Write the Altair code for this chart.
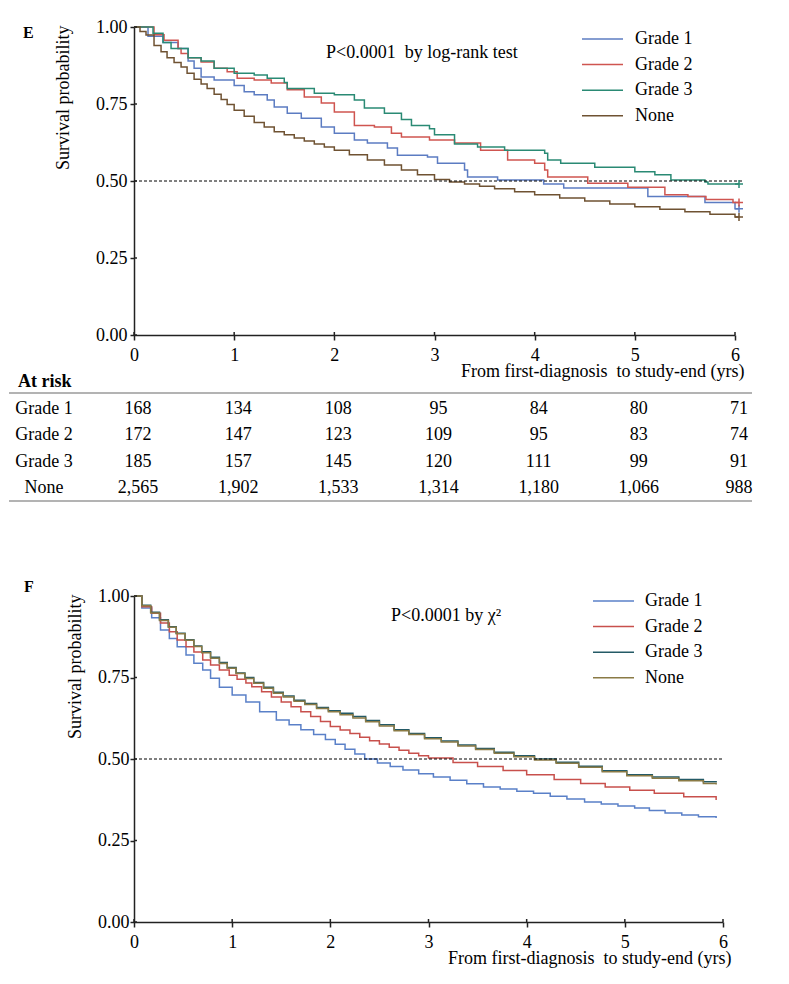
import altair as alt
import pandas as pd

FONT = "Liberation Serif"
AXC = "#222222"
SERIES = ["Grade 1", "Grade 2", "Grade 3", "None"]
E_COLORS = ["#5c7cc2", "#cf5550", "#2a8a74", "#6f5232"]
F_COLORS = ["#5a80c8", "#c8504c", "#245a66", "#8a7a45"]
X_TICKS = [0, 1, 2, 3, 4, 5, 6]
Y_TICKS = [0, 0.25, 0.5, 0.75, 1.0]
X_TITLE = "From first-diagnosis\u00a0 to study-end (yrs)"

# ---- Panel E (Kaplan-Meier, log-rank) ----
e_g1_t = [0, 0.14, 0.29, 0.44, 0.54, 0.60, 0.67, 0.80, 1.00, 1.10, 1.20, 1.33, 1.40, 1.53, 1.67, 1.87,
          2.00, 2.20, 2.33, 2.53, 2.63, 2.93, 3.03, 3.30, 3.33, 3.63, 4.09, 4.29, 5.13, 5.70, 6.00, 6.04]
e_g1_s = [1, 0.97, 0.95, 0.93, 0.89, 0.866, 0.838, 0.828, 0.81, 0.79, 0.78, 0.763, 0.74, 0.72, 0.704, 0.675,
          0.655, 0.633, 0.623, 0.607, 0.584, 0.578, 0.558, 0.536, 0.513, 0.503, 0.49, 0.477, 0.45, 0.43, 0.41, 0.41]

e_g2_t = [0, 0.20, 0.30, 0.44, 0.47, 0.54, 0.67, 0.80, 0.93, 1.03, 1.20, 1.37, 1.53, 1.70, 1.87, 2.00,
          2.20, 2.40, 2.57, 2.67, 2.95, 3.20, 3.46, 3.73, 4.00, 4.10, 4.13, 4.53, 4.93, 5.30, 5.53, 5.71, 5.98, 6.04]
e_g2_s = [1, 0.975, 0.957, 0.93, 0.914, 0.90, 0.886, 0.866, 0.855, 0.834, 0.828, 0.818, 0.796, 0.773, 0.753, 0.724,
          0.68, 0.675, 0.655, 0.643, 0.633, 0.623, 0.60, 0.568, 0.558, 0.536, 0.513, 0.493, 0.48, 0.455, 0.45, 0.44, 0.43, 0.43]

e_g3_t = [0, 0.19, 0.29, 0.37, 0.54, 0.67, 0.80, 1.00, 1.20, 1.33, 1.50, 1.53, 1.80, 2.00, 2.20, 2.30,
          2.50, 2.67, 2.77, 2.95, 3.00, 3.20, 3.43, 3.70, 4.10, 4.13, 4.26, 4.60, 5.00, 5.20, 5.36, 5.70, 5.73, 6.04]
e_g3_s = [1, 0.98, 0.95, 0.93, 0.90, 0.89, 0.866, 0.85, 0.844, 0.834, 0.82, 0.80, 0.785, 0.78, 0.763, 0.737,
          0.72, 0.70, 0.68, 0.67, 0.65, 0.62, 0.61, 0.60, 0.59, 0.568, 0.558, 0.545, 0.53, 0.52, 0.503, 0.497, 0.49, 0.49]

e_no_t = [0, 0.06, 0.12, 0.2, 0.27, 0.33, 0.4, 0.47, 0.53, 0.6, 0.67, 0.73, 0.8, 0.87, 0.93, 1.0, 1.1, 1.2,
          1.3, 1.4, 1.5, 1.6, 1.7, 1.8, 1.9, 2.0, 2.15, 2.33, 2.5, 2.67, 2.83, 3.0, 3.15, 3.3, 3.45, 3.6, 3.8,
          4.0, 4.25, 4.5, 4.75, 5.0, 5.25, 5.5, 5.75, 6.0, 6.04]
e_no_s = [1, 0.985, 0.974, 0.94, 0.92, 0.90, 0.885, 0.87, 0.85, 0.83, 0.815, 0.80, 0.782, 0.765, 0.748, 0.73,
          0.71, 0.69, 0.675, 0.66, 0.65, 0.64, 0.63, 0.62, 0.61, 0.60, 0.585, 0.568, 0.552, 0.536, 0.52, 0.505,
          0.497, 0.49, 0.483, 0.475, 0.465, 0.455, 0.445, 0.435, 0.425, 0.416, 0.408, 0.40, 0.392, 0.383, 0.383]

e_censor_t = [6.04, 6.04, 6.04, 6.04]
e_censor_s = [0.41, 0.43, 0.49, 0.383]

# ---- At-risk table ----
risk_years = [0, 1, 2, 3, 4, 5, 6]
risk_g1 = ["168", "134", "108", "95", "84", "80", "71"]
risk_g2 = ["172", "147", "123", "109", "95", "83", "74"]
risk_g3 = ["185", "157", "145", "120", "111", "99", "91"]
risk_none = ["2,565", "1,902", "1,533", "1,314", "1,180", "1,066", "988"]

# ---- Panel F (chi-square) ----
f_g1_t = [0, .08, .18, .27, .36, .44, .53, .61, .70, .78, .87, 1.0, 1.14, 1.28, 1.45, 1.58, 1.7, 1.83, 1.95,
          2.05, 2.15, 2.25, 2.35, 2.48, 2.61, 2.74, 2.9, 3.05, 3.22, 3.39, 3.56, 3.73, 3.9, 4.07, 4.24, 4.41,
          4.59, 4.76, 4.93, 5.1, 5.25, 5.41, 5.58, 5.75, 5.93]
f_g1_s = [1, .963, .933, .896, .87, .844, .819, .794, .773, .748, .72, .696, .675, .645, .62, .605, .59, .575,
          .56, .545, .53, .515, .50, .488, .477, .466, .455, .445, .435, .424, .414, .408, .401, .395, .386,
          .377, .368, .362, .356, .35, .342, .334, .328, .323, .319]

f_g2_t = [0, .08, .18, .27, .36, .44, .53, .61, .70, .78, .87, .97, 1.05, 1.14, 1.2, 1.3, 1.4, 1.5, 1.6, 1.7,
          1.8, 1.9, 2.0, 2.1, 2.2, 2.3, 2.4, 2.5, 2.6, 2.7, 2.8, 2.9, 3.0, 3.25, 3.5, 3.76, 4.0, 4.28, 4.55,
          4.8, 5.05, 5.3, 5.6, 5.93]
f_g2_s = [1, .967, .947, .917, .89, .865, .844, .828, .804, .788, .773, .757, .745, .733, .722, .706, .69,
          .675, .66, .645, .63, .615, .60, .589, .578, .567, .556, .546, .536, .527, .518, .51, .503, .489,
          .477, .465, .452, .437, .425, .414, .404, .395, .384, .374]

f_g3_t = [0, .08, .17, .26, .35, .43, .52, .61, .69, .78, .87, .95, 1.04, 1.13, 1.22, 1.32, 1.42, 1.52, 1.63,
          1.74, 1.86, 1.98, 2.1, 2.23, 2.36, 2.5, 2.65, 2.8, 2.96, 3.13, 3.3, 3.48, 3.67, 3.87, 4.08, 4.3,
          4.53, 4.77, 5.02, 5.28, 5.55, 5.8, 5.93]
f_g3_s = [1, .972, .95, .927, .906, .886, .866, .847, .829, .812, .796, .781, .764, .75, .735, .72, .705,
          .693, .68, .67, .658, .648, .64, .63, .618, .605, .59, .578, .565, .555, .543, .532, .521, .51, .50,
          .49, .478, .464, .452, .445, .437, .43, .428]

f_no_t = f_g3_t
f_no_s = [1, .97, .948, .925, .904, .884, .864, .845, .826, .809, .793, .778, .762, .747, .732, .717, .702,
          .69, .677, .667, .655, .645, .636, .626, .614, .601, .587, .575, .562, .552, .54, .529, .518, .507,
          .497, .487, .475, .461, .449, .441, .433, .425, .422]


def curves_df(parts):
    rows = []
    for name, ts, ss in parts:
        for t, s in zip(ts, ss):
            rows.append({"grp": name, "t": t, "s": s})
    return pd.DataFrame(rows)


def one(**kw):
    return pd.DataFrame({k: [v] for k, v in kw.items()})


def km_panel(df, colors, width, height, letter, letter_x, letter_y, ptext, ptext_x, ptext_y,
             legend_x, legend_y, label_offset, xtitle_x, xtitle_y, ytitle_x, ylab_pad, xlab_pad,
             ref_x2, censor=None):
    xs = alt.Scale(domain=[0, 6], nice=False, zero=False)
    ys = alt.Scale(domain=[0, 1], nice=False)
    xaxis = alt.Axis(values=X_TICKS, format="d", tickSize=5, labelPadding=xlab_pad, title=X_TITLE,
                     titleX=xtitle_x, titleY=xtitle_y, titleAlign="right", titleBaseline="alphabetic",
                     grid=False, labelFlush=False)
    yaxis = alt.Axis(values=Y_TICKS, format=".2f", tickSize=4, labelPadding=ylab_pad,
                     title="Survival probability", titleAngle=270, titleX=ytitle_x, titleY=-2,
                     titleAlign="right", titleBaseline="middle", grid=False, labelFlush=False)
    X = lambda f: alt.X(f, scale=xs, axis=xaxis)
    Y = lambda f: alt.Y(f, scale=ys, axis=yaxis)
    cscale = alt.Scale(domain=SERIES, range=colors)
    legend = alt.Legend(title=None, orient="none", legendX=legend_x, legendY=legend_y,
                        symbolType="M-4.1,0H4.1", symbolSize=100, symbolStrokeWidth=1.5,
                        labelOffset=label_offset, rowPadding=7.6, padding=0, labelFont=FONT,
                        labelFontSize=18, labelColor="black", labelLimit=0)

    lines = alt.Chart(df).mark_line(interpolate="step-after", strokeWidth=1.5).encode(
        x=X("t:Q"), y=Y("s:Q"),
        color=alt.Color("grp:N", scale=cscale, legend=legend),
        order=alt.Order("t:Q"))

    ref = alt.Chart(one(t=0, t2=ref_x2, s=0.5)).mark_rule(
        strokeDash=[3, 2], color="black", strokeWidth=1).encode(
        x=X("t:Q"), x2="t2:Q", y=Y("s:Q"))

    xt = alt.Chart(pd.DataFrame({"t": X_TICKS})).mark_rule(color=AXC, strokeWidth=1.5).encode(
        x=X("t:Q"), y=alt.value(height - 3), y2=alt.value(height))
    yt = alt.Chart(pd.DataFrame({"s": Y_TICKS})).mark_rule(color=AXC, strokeWidth=1.5).encode(
        y=Y("s:Q"), x=alt.value(0), x2=alt.value(3))

    let = alt.Chart(one(a=letter)).mark_text(align="left", baseline="middle", font=FONT, fontSize=16,
                                             fontWeight="bold", color="black").encode(
        x=alt.value(letter_x), y=alt.value(letter_y), text="a:N")
    ptx = alt.Chart(one(a=ptext)).mark_text(align="left", baseline="middle", font=FONT, fontSize=18,
                                            color="black").encode(
        x=alt.value(ptext_x), y=alt.value(ptext_y), text="a:N")

    layers = [lines, ref, xt, yt, let, ptx]
    if censor is not None:
        cens = alt.Chart(censor).mark_point(shape="M-1,0H1M0,-1V1", size=64, filled=False,
                                            strokeWidth=1.5, opacity=1).encode(
            x=X("t:Q"), y=Y("s:Q"),
            color=alt.Color("grp:N", scale=cscale, legend=legend))
        layers.append(cens)
    return alt.layer(*layers).properties(width=width, height=height)


e_df = curves_df([("Grade 1", e_g1_t, e_g1_s), ("Grade 2", e_g2_t, e_g2_s),
                  ("Grade 3", e_g3_t, e_g3_s), ("None", e_no_t, e_no_s)])
e_cens = pd.DataFrame({"grp": SERIES, "t": e_censor_t, "s": e_censor_s})
f_df = curves_df([("Grade 1", f_g1_t, f_g1_s), ("Grade 2", f_g2_t, f_g2_s),
                  ("Grade 3", f_g3_t, f_g3_s), ("None", f_no_t, f_no_s)])

E = km_panel(e_df, E_COLORS, 601, 308, "E", -111, 6, "P<0.0001\u00a0 by log-rank test", 192, 26,
             459.5, 3, 23.5, 610, 41, -71, 3, 6, 6.08, censor=e_cens)
F = km_panel(f_df, F_COLORS, 589, 326, "F", -110, -9, "P<0.0001 by \u03c7\u00b2", 257, 20,
             470.5, -4, 22.5, 597, 41, -59, 1, 6, 6.0)

# table
risk_rows = []
for name, vals in zip(SERIES, [risk_g1, risk_g2, risk_g3, risk_none]):
    for yr, v in zip(risk_years, vals):
        risk_rows.append({"grp": name, "t": yr, "n": v})
risk_df = pd.DataFrame(risk_rows)

tx = alt.Scale(domain=[0, 6], nice=False, zero=False)
ty = alt.Scale(domain=SERIES, range=[3, 108])
nums = alt.Chart(risk_df).mark_text(font=FONT, fontSize=18, dx=4, baseline="middle", color="black").encode(
    x=alt.X("t:Q", scale=tx, axis=None), y=alt.Y("grp:N", scale=ty, axis=None), text="n:N")
rlabels = alt.Chart(pd.DataFrame({"grp": SERIES})).mark_text(
    font=FONT, fontSize=18, baseline="middle", color="black").encode(
    x=alt.value(-90), y=alt.Y("grp:N", scale=ty, axis=None), text="grp:N")
header = alt.Chart(one(a="At risk")).mark_text(align="left", baseline="middle", font=FONT, fontSize=18,
                                               fontWeight="bold", color="black").encode(
    x=alt.value(-116), y=alt.value(-11), text="a:N")
top_rule = alt.Chart(one(a=0)).mark_rule(color="#9a9a9a", strokeWidth=1.5).encode(
    x=alt.value(-125), x2=alt.value(618), y=alt.value(0))
bot_rule = alt.Chart(one(a=0)).mark_rule(color="#9a9a9a", strokeWidth=1.5).encode(
    x=alt.value(-125), x2=alt.value(618), y=alt.value(108))
T = alt.layer(top_rule, bot_rule, header, rlabels, nums).properties(width=601, height=145)

chart = alt.vconcat(E, T, F, spacing=58, bounds="flush").resolve_scale(
    color="independent").resolve_legend(color="independent").properties(
    padding={"left": 0, "top": 10, "right": 5, "bottom": 5}).configure_view(
    stroke=None).configure_axis(
    labelFont=FONT, titleFont=FONT, labelFontSize=18, titleFontSize=18, labelColor="black",
    titleColor="black", titleFontWeight="normal", domainColor=AXC, tickColor=AXC,
    domainWidth=1.5, tickWidth=1.5)

chart.save("out.html", embed_options={"renderer": "svg", "actions": False})
